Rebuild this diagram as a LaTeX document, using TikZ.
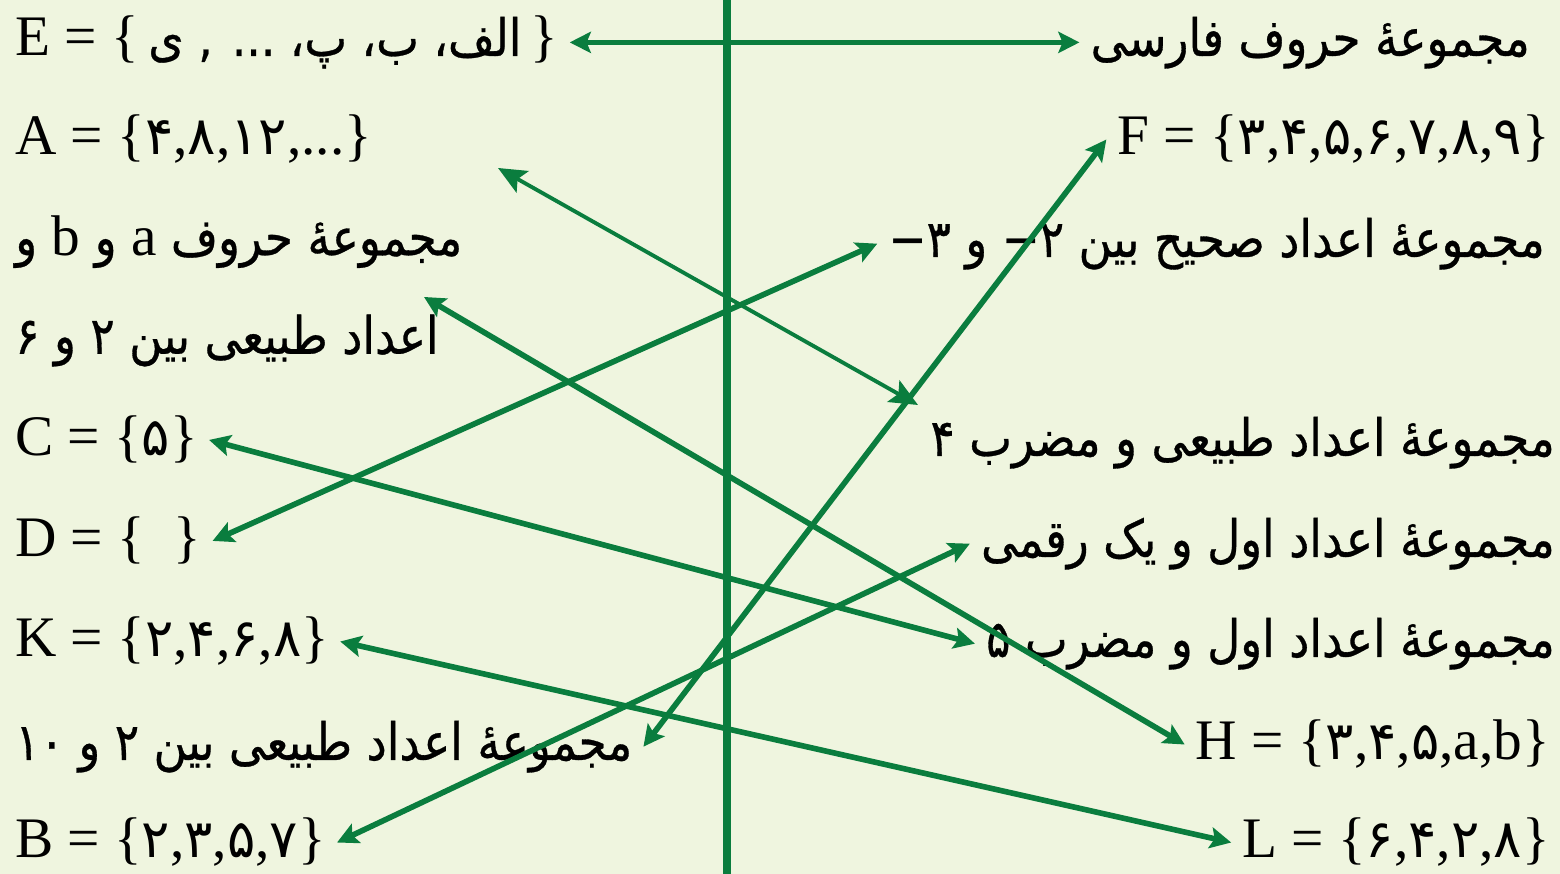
\documentclass[tikz,border=0pt]{standalone}
\usepackage{fontspec}
\usepackage{xcolor}
\setmainfont{Liberation Serif}
\newfontfamily\fa[Script=Arabic,Scale=0.9,FakeStretch=0.88,FakeBold=0.6]{DejaVu Sans}
\newfontfamily\fadig[Script=Arabic,Scale=0.92]{DejaVu Sans}
\TeXXeTstate=1
\usetikzlibrary{arrows.meta}
\definecolor{setgreen}{RGB}{10,125,62}
\definecolor{paper}{RGB}{239,245,223}
\newcommand{\fatext}[1]{{\fa\beginR #1\endR}}
\newcommand{\fd}[1]{{\fadig #1}}
\newcommand{\sep}{\kern0pt}

\begin{document}
\begin{tikzpicture}[x=0.01cm,y=-0.01cm,
  lset/.style={anchor=base west, inner xsep=3pt, inner ysep=1pt, font=\fontsize{16.3}{28}\selectfont},
  rset/.style={anchor=base east, inner xsep=3pt, inner ysep=1pt, font=\fontsize{16.3}{28}\selectfont},
  pair/.style={{Stealth[length=6pt,width=6pt,inset=1.2pt]}-{Stealth[length=6pt,width=6pt,inset=1.2pt]}, draw=setgreen, line width=1.6pt},
  thinpair/.style={{Stealth[length=8pt,width=7pt,inset=1.6pt]}-{Stealth[length=8pt,width=7pt,inset=1.6pt]}, draw=setgreen, line width=1.1pt}]
  \useasboundingbox (0,0) rectangle (1560,874);
  \fill[paper] (0,0) rectangle (1560,874);
  \draw[setgreen, line width=2pt] (727,0) -- (727,874);

  % left column
  \node[lset] (E) at (4,56) {E = \{\,\fatext{الف\sep، ب\sep، پ\sep، ... , ی}\,\}};
  \node[lset] (A) at (4,155) {A = \{\fd{۴},\fd{۸},\fd{۱۲},...\}};
  \node[lset, anchor=west, align=left] (ab) at (4,291) {\fatext{مجموعهٔ حروف {\rmfamily a} و {\rmfamily b} و}\\\fatext{اعداد طبیعی بین ۲ و ۶}};
  \node[lset] (C) at (4,456) {C = \{\fd{۵}\}};
  \node[lset] (D) at (4,557) {D = \{\ \ \}};
  \node[lset] (K) at (4,657) {K = \{\fd{۲},\fd{۴},\fd{۶},\fd{۸}\}};
  \node[lset] (N10) at (4,760) {\fatext{مجموعهٔ اعداد طبیعی بین ۲ و ۱۰}};
  \node[lset] (B) at (4,858) {B = \{\fd{۲},\fd{۳},\fd{۵},\fd{۷}\}};

  % right column
  \node[rset] (farsi) at (1541,56) {\fatext{مجموعهٔ حروف فارسی}};
  \node[rset] (F) at (1561,155) {F = \{\fd{۳},\fd{۴},\fd{۵},\fd{۶},\fd{۷},\fd{۸},\fd{۹}\}};
  \node[rset] (int) at (1556,257) {\fatext{مجموعهٔ اعداد صحیح بین ۲\sep− و ۳\sep−}};
  \node[rset] (mult4) at (1566,456) {\fatext{مجموعهٔ اعداد طبیعی و مضرب ۴}};
  \node[rset] (onedigit) at (1566,557) {\fatext{مجموعهٔ اعداد اول و یک رقمی}};
  \node[rset] (prime5) at (1566,657) {\fatext{مجموعهٔ اعداد اول و مضرب ۵}};
  \node[rset] (H) at (1561,760) {H = \{\fd{۳},\fd{۴},\fd{۵},a,b\}};
  \node[rset] (L) at (1561,858) {L = \{\fd{۶},\fd{۴},\fd{۲},\fd{۸}\}};

  \coordinate (Atip) at (498,168);
  \coordinate (m4tip) at (918,405);
  \coordinate (abtip) at (424,297);

  \draw[pair] (E.east) -- (E.east -| farsi.west);
  \draw[thinpair] (Atip) -- (m4tip);
  \draw[pair] (abtip) -- (H.west);
  \draw[pair] (D.east) -- (int.west);
  \draw[pair] (C.east) -- (prime5.west);
  \draw[pair] (K.east) -- (L.west);
  \draw[pair] (B.east) -- (onedigit.west);
  \draw[pair] (N10.east) -- (F.west);
\end{tikzpicture}
\end{document}
